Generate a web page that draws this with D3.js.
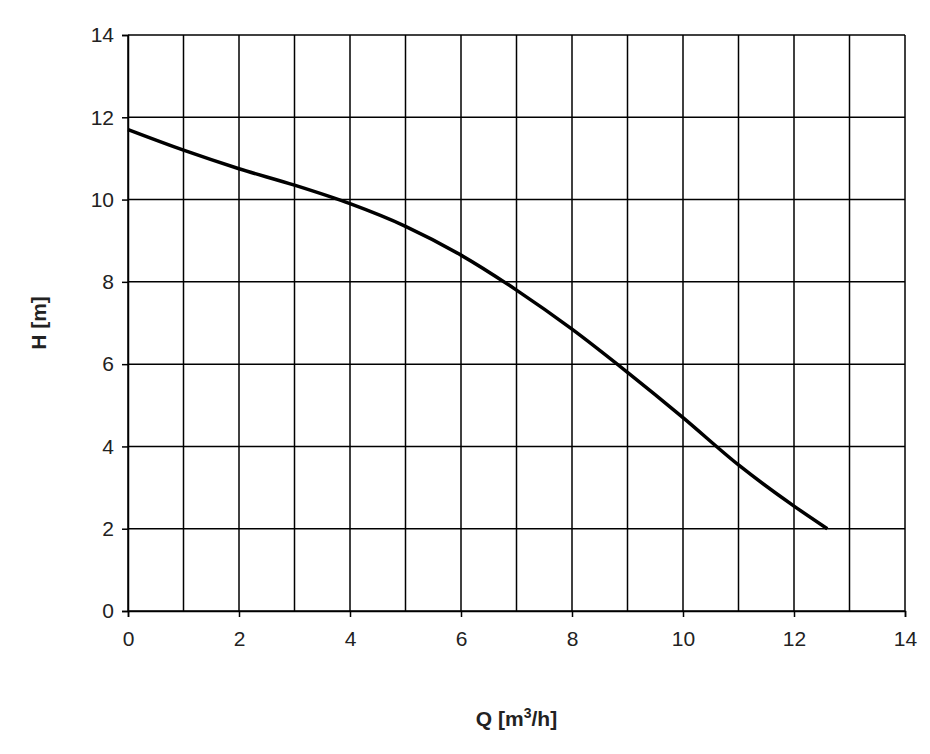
<!DOCTYPE html>
<html><head><meta charset="utf-8">
<script src="https://cdn.jsdelivr.net/npm/d3@7"></script>
<style>body{margin:0;background:#fff}svg{display:block}</style>
</head><body>
<script>
const qValues=[0,1,2,3,4,5,6,7,8,9,10,11,12,12.6];
const hValues=[11.7,11.2,10.75,10.35,9.9,9.35,8.65,7.8,6.85,5.8,4.7,3.55,2.55,2.0];
const xTicks=[0,2,4,6,8,10,12,14];
const yTicks=[0,2,4,6,8,10,12,14];
const xGrid=d3.range(0,15,1);

const W=930,H=754,m={l:128,r:25,t:35,b:143};
const svg=d3.select("body").append("svg").attr("width",W).attr("height",H);
const x=d3.scaleLinear().domain([0,14]).range([m.l,W-m.r]);
const y=d3.scaleLinear().domain([0,14]).range([H-m.b,m.t]);
const font="Liberation Sans, Arial, sans-serif";

const g=svg.append("g").attr("stroke","#000").attr("stroke-width",1.5);
g.selectAll(".vx").data(xGrid).join("line").attr("x1",d=>x(d)).attr("x2",d=>x(d)).attr("y1",y(0)).attr("y2",y(14));
g.selectAll(".hy").data(yTicks).join("line").attr("x1",x(0)).attr("x2",x(14)).attr("y1",d=>y(d)).attr("y2",d=>y(d));

const xa=svg.append("g").attr("transform",`translate(0,${y(0)})`).call(d3.axisBottom(x).tickValues(xTicks).tickSize(6).tickPadding(14));
const ya=svg.append("g").attr("transform",`translate(${x(0)},0)`).call(d3.axisLeft(y).tickValues(yTicks).tickSize(6).tickPadding(8));
[xa,ya].forEach(a=>{a.select(".domain").attr("stroke","#000").attr("stroke-width",1.5);
 a.selectAll(".tick line").attr("stroke","#000").attr("stroke-width",1.5);
 a.selectAll("text").attr("font-family",font).attr("font-size",21).attr("fill","#222");});

svg.append("path").datum(qValues.map((q,i)=>[q,hValues[i]]))
 .attr("fill","none").attr("stroke","#000").attr("stroke-width",3.5)
 .attr("d",d3.line().x(d=>x(d[0])).y(d=>y(d[1])).curve(d3.curveMonotoneX));

const xt=svg.append("text").attr("x",x(7)).attr("y",726).attr("text-anchor","middle")
 .attr("font-family",font).attr("font-size",21).attr("font-weight","bold").attr("fill","#222");
xt.append("tspan").text("Q [m");
xt.append("tspan").attr("dy",-8).attr("font-size",14).text("3");
xt.append("tspan").attr("dy",8).text("/h]");
svg.append("text").attr("transform",`translate(46,${y(7)}) rotate(-90)`).attr("text-anchor","middle")
 .attr("font-family",font).attr("font-size",21).attr("font-weight","bold").attr("fill","#222").text("H [m]");
</script>
</body></html>
